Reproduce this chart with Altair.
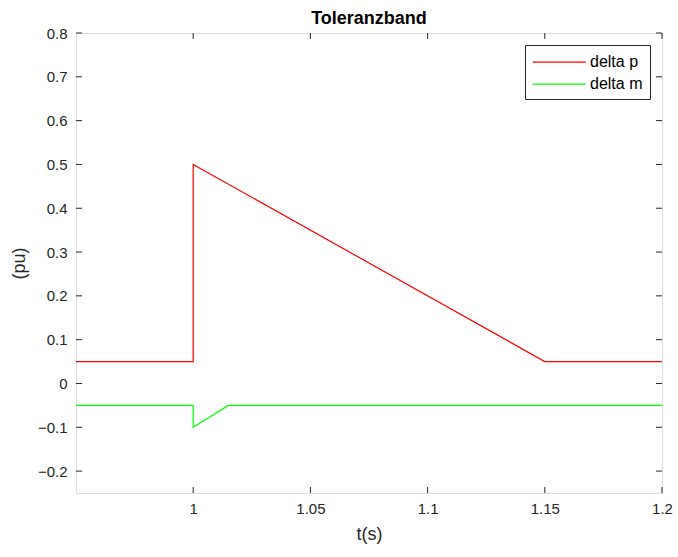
import altair as alt
import pandas as pd

t_p = [0.95, 1.0, 1.0, 1.15, 1.2]
v_p = [0.05, 0.05, 0.5, 0.05, 0.05]
t_m = [0.95, 1.0, 1.0, 1.015, 1.2]
v_m = [-0.05, -0.05, -0.1, -0.05, -0.05]
x_ticks = [1.0, 1.05, 1.1, 1.15, 1.2]
y_ticks = [-0.2, -0.1, 0.0, 0.1, 0.2, 0.3, 0.4, 0.5, 0.6, 0.7, 0.8]
series = ["delta p", "delta m"]
colors = ["#ff0000", "#00ff00"]

rows = []
for i, (t, v) in enumerate(zip(t_p, v_p)):
    rows.append({"t": t, "v": v, "s": series[0], "o": i})
for i, (t, v) in enumerate(zip(t_m, v_m)):
    rows.append({"t": t, "v": v, "s": series[1], "o": i})
df = pd.DataFrame(rows)

W, H = 586, 460
FONT = "Liberation Sans"
GREY = "#262626"

xs = alt.Scale(domain=[0.95, 1.2], nice=False, zero=False)
ys = alt.Scale(domain=[-0.25, 0.8], nice=False, zero=False)

lines = alt.Chart(df).mark_line(strokeWidth=1.2, interpolate="linear").encode(
    x=alt.X("t:Q", scale=xs, title="t(s)",
            axis=alt.Axis(values=x_ticks, ticks=False, domain=False, grid=False,
                          labelPadding=8, labelFontSize=15, labelFont=FONT,
                          labelColor=GREY, titleFont=FONT, titleFontSize=18,
                          titleFontWeight="normal", titleColor=GREY, titlePadding=9,
                          labelFlush=False, labelOverlap=False,
                          labelExpr="format(datum.value, '.2~f')")),
    y=alt.Y("v:Q", scale=ys, title="(pu)",
            axis=alt.Axis(values=y_ticks, ticks=False, domain=False, grid=False,
                          labelPadding=9, labelFontSize=15, labelFont=FONT,
                          labelColor=GREY, titleFont=FONT, titleFontSize=18,
                          titleFontWeight="normal", titleColor=GREY, titlePadding=9,
                          labelFlush=False, labelOverlap=False,
                          labelExpr="format(datum.value, '.1~f')")),
    color=alt.Color("s:N", scale=alt.Scale(domain=series, range=colors),
                    legend=alt.Legend(title=None, orient="none", legendX=449, legendY=12,
                                      symbolType="M-1,0.06L5,0.06", symbolSize=313,
                                      symbolStrokeWidth=1.2, labelFont=FONT,
                                      labelFontSize=16, labelColor="#000000",
                                      labelOffset=39, symbolOpacity=1,
                                      strokeColor=GREY, fillColor="white",
                                      padding=7, rowPadding=4)),
    order="o:Q",
)

xt = pd.DataFrame({"x": x_ticks})
yt = pd.DataFrame({"y": y_ticks})

xb = alt.Chart(xt).mark_rule(color=GREY, strokeWidth=1).encode(
    x=alt.X("x:Q", scale=xs), y=alt.value(H), y2=alt.value(H - 6))
xtop = alt.Chart(xt).mark_rule(color=GREY, strokeWidth=1).encode(
    x=alt.X("x:Q", scale=xs), y=alt.value(0), y2=alt.value(6))
yl = alt.Chart(yt).mark_rule(color=GREY, strokeWidth=1).encode(
    y=alt.Y("y:Q", scale=ys), x=alt.value(0), x2=alt.value(6))
yr = alt.Chart(yt).mark_rule(color=GREY, strokeWidth=1).encode(
    y=alt.Y("y:Q", scale=ys), x=alt.value(W), x2=alt.value(W - 6))

chart = alt.layer(lines, xb, xtop, yl, yr).properties(
    width=W, height=H,
    title=alt.Title("Toleranzband", font=FONT, fontSize=18, fontWeight="bold",
                    color="#000000", anchor="middle", offset=-2),
    autosize=alt.AutoSizeParams(type="none"),
    padding={"left": 76, "top": 33, "right": 16, "bottom": 64},
).configure_view(stroke=GREY, strokeWidth=1).configure(background="white")

chart.save("out.html", embed_options={"renderer": "svg", "actions": False})
